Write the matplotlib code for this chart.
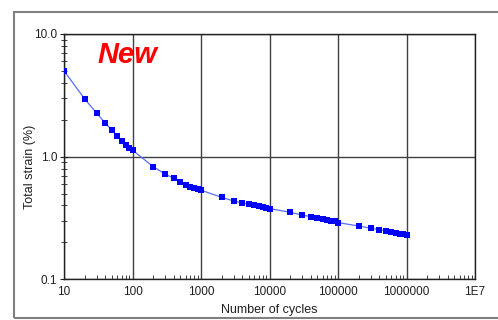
import matplotlib.pyplot as plt
from matplotlib.patches import Rectangle
from matplotlib.ticker import LogLocator, FixedLocator, NullFormatter

plt.rcParams['font.family'] = ['Liberation Sans', 'DejaVu Sans']

# Data
cycles = [10, 20, 30, 40, 50, 60, 70, 80, 90,
          100, 200, 300, 400, 500, 600, 700, 800, 900,
          1000, 2000, 3000, 4000, 5000, 6000, 7000, 8000, 9000,
          10000, 20000, 30000, 40000, 50000, 60000, 70000, 80000, 90000,
          100000, 200000, 300000, 400000, 500000, 600000, 700000, 800000, 900000,
          1000000]
strain = [5.0, 2.96, 2.26, 1.88, 1.64, 1.48, 1.35, 1.245, 1.18,
          1.13, 0.83, 0.72, 0.667, 0.618, 0.59, 0.57, 0.552, 0.542,
          0.533, 0.466, 0.435, 0.42, 0.41, 0.40, 0.394, 0.386, 0.381,
          0.377, 0.352, 0.334, 0.324, 0.318, 0.311, 0.305, 0.300, 0.296,
          0.290, 0.272, 0.261, 0.254, 0.248, 0.243, 0.239, 0.235, 0.232,
          0.231]

x_ticks = [10, 100, 1000, 10000, 100000, 1000000, 10000000]
x_labels = ['10', '100', '1000', '10000', '100000', '1000000', '1E7']
y_ticks = [0.1, 1.0, 10.0]
y_labels = ['0.1', '1.0', '10.0']

fig = plt.figure(figsize=(4.98, 3.2), dpi=100)
fig.patches.append(Rectangle((14 / 498, 2 / 320), 1.2, 306 / 320,
                             transform=fig.transFigure, fill=False,
                             edgecolor='#808080', linewidth=1.5))

ax = fig.add_axes([64 / 498, 1 - 279.3 / 320, 411 / 498, 245.3 / 320])
ax.plot(cycles, strain, color='#5a6cff', linewidth=0.9, zorder=3)
ax.plot(cycles, strain, 's', color='#0000ff', markersize=4.4,
        markeredgewidth=0, zorder=4)

ax.set_xscale('log')
ax.set_yscale('log')
ax.set_xlim(10, 1e7)
ax.set_ylim(0.1, 10)

ax.xaxis.set_major_locator(FixedLocator(x_ticks))
ax.set_xticklabels(x_labels)
ax.yaxis.set_major_locator(FixedLocator(y_ticks))
ax.set_yticklabels(y_labels)
ax.xaxis.set_minor_locator(LogLocator(base=10, subs=range(2, 10)))
ax.yaxis.set_minor_locator(LogLocator(base=10, subs=range(2, 10)))
ax.xaxis.set_minor_formatter(NullFormatter())
ax.yaxis.set_minor_formatter(NullFormatter())

ax.tick_params(axis='x', which='major', direction='in', length=0, pad=5,
               labelsize=8.5, colors='#202020')
ax.tick_params(axis='x', which='minor', direction='in', length=3,
               color='#202020')
ax.tick_params(axis='y', which='major', direction='inout', length=6, pad=2,
               labelsize=8.5, colors='#202020')
ax.tick_params(axis='y', which='minor', direction='inout', length=4,
               color='#202020')

ax.grid(True, which='major', color='#404040', linewidth=1.0)
for s in ax.spines.values():
    s.set_color('#202020')
    s.set_linewidth(1.0)

ax.set_xlabel('Number of cycles', fontsize=9, color='#202020', labelpad=4)
ax.set_ylabel('Total strain (%)', fontsize=9, color='#202020')
ax.yaxis.set_label_coords(-0.068, 0.458)

# "New" label placed in figure coords
fig.text(97 / 498, 1 - 63 / 320, 'New', fontsize=21, fontweight='bold',
         fontstyle='italic', color='#ff0000')

fig.savefig('out.png', dpi=100)
